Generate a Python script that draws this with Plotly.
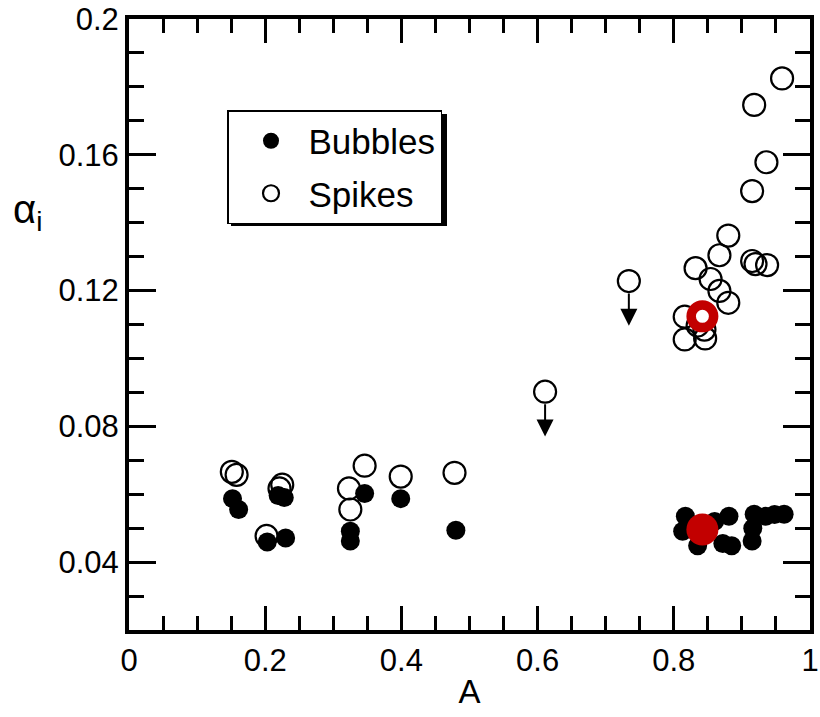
import plotly.graph_objects as go

# Spikes (open circles)
spikes_x = [0.151, 0.158, 0.225, 0.221, 0.202, 0.346, 0.323, 0.325, 0.399, 0.478,
            0.959, 0.918, 0.936, 0.915, 0.880, 0.867, 0.915, 0.920, 0.937, 0.832,
            0.854, 0.867, 0.880, 0.816, 0.835, 0.816, 0.846, 0.845]
spikes_y = [0.0666, 0.0657, 0.0628, 0.0617, 0.0477, 0.0684, 0.0617, 0.0555, 0.0652, 0.0663,
            0.1825, 0.1747, 0.1578, 0.1493, 0.1362, 0.1304, 0.1287, 0.1278, 0.1275, 0.1266,
            0.1234, 0.1199, 0.1164, 0.1123, 0.1097, 0.1056, 0.1059, 0.1085]

# Spikes given as upper limits (drawn with a downward arrow)
limit_x = [0.734, 0.611]
limit_y = [0.1228, 0.0902]

# Bubbles (filled circles)
bubbles_x = [0.152, 0.161, 0.219, 0.228, 0.203, 0.230, 0.346, 0.325, 0.325, 0.399, 0.480,
             0.817, 0.881, 0.813, 0.835, 0.872, 0.885, 0.918, 0.935, 0.948, 0.962, 0.915,
             0.916, 0.860]
bubbles_y = [0.0587, 0.0555, 0.0596, 0.0590, 0.0459, 0.0471, 0.0602, 0.0491, 0.0462, 0.0587, 0.0494,
             0.0535, 0.0535, 0.0491, 0.0448, 0.0455, 0.0448, 0.0541, 0.0535, 0.0540, 0.0541, 0.0462,
             0.0500, 0.0520]

# Mean values of the high-A groups
mean_bubbles = (0.842, 0.0496)
mean_spikes = (0.842, 0.1124)

x_range = [0, 1]
y_range = [0.02, 0.2]
y_tickvals = [0.04, 0.08, 0.12, 0.16, 0.2]
y_ticktext = ["0.04", "0.08", "0.12", "0.16", "0.2"]

FONT = "Liberation Sans, Arial, Helvetica, sans-serif"
RED = "#c20000"
ARROW_LEN = 0.0132  # length of the upper-limit arrows in data units

# plot-area geometry in pixels, used to place paper-referenced items
W, H = 820, 717
M_L, M_R, M_T, M_B = 129, 10, 19, 87
PX0, PX1 = M_L, W - M_R
PY0, PY1 = M_T, H - M_B


def px(x):
    return (x - PX0) / (PX1 - PX0)


def py(y):
    return (PY1 - y) / (PY1 - PY0)


fig = go.Figure()

fig.add_trace(go.Scatter(
    x=spikes_x + limit_x, y=spikes_y + limit_y, mode="markers", name="Spikes",
    legendrank=2, legendgroup="s",
    marker=dict(symbol="circle-open", size=22, color="black", line=dict(width=2.2, color="black")),
))
fig.add_trace(go.Scatter(
    x=bubbles_x, y=bubbles_y, mode="markers", name="Bubbles",
    legendrank=1, legendgroup="b",
    marker=dict(symbol="circle", size=19, color="black"),
))
fig.add_trace(go.Scatter(
    x=[mean_bubbles[0]], y=[mean_bubbles[1]], mode="markers", showlegend=False,
    marker=dict(symbol="circle", size=32, color=RED),
))
fig.add_trace(go.Scatter(
    x=[mean_spikes[0]], y=[mean_spikes[1]], mode="markers", showlegend=False,
    marker=dict(symbol="circle", size=22.5, color="white", line=dict(width=9.5, color=RED)),
))

for lx, ly in zip(limit_x, limit_y):
    fig.add_annotation(
        x=lx, y=ly - ARROW_LEN, ax=lx, ay=ly, xref="x", yref="y", axref="x", ayref="y",
        text="", showarrow=True, arrowhead=2, arrowsize=1.7, arrowwidth=2,
        arrowcolor="black", startstandoff=11,
    )

axis_common = dict(
    showline=True, linewidth=4, linecolor="black", mirror="allticks",
    ticks="inside", tickcolor="black", tickwidth=3,
    showgrid=False, zeroline=False, ticklabeloverflow="allow", automargin=False,
    tickfont=dict(family=FONT, size=31, color="black"),
)

fig.update_xaxes(
    range=x_range, tick0=0, dtick=0.2, ticklen=24,
    minor=dict(tickmode="linear", tick0=0, dtick=0.05, ticks="inside", ticklen=14,
               tickwidth=3, tickcolor="black", showgrid=False),
    title=dict(text="A", font=dict(family=FONT, size=33, color="black"), standoff=4),
    **axis_common,
)
fig.update_yaxes(
    range=y_range, tickmode="array", tickvals=y_tickvals, ticktext=y_ticktext, ticklen=27,
    minor=dict(tickmode="linear", tick0=0, dtick=0.01, ticks="inside", ticklen=15,
               tickwidth=3, tickcolor="black", showgrid=False),
    **axis_common,
)

fig.add_annotation(
    text="α<sub>i</sub>", xref="paper", yref="paper", x=px(27), y=py(212),
    xanchor="center", yanchor="middle",
    showarrow=False, font=dict(family=FONT, size=40, color="black"),
)

# drop shadow behind the legend box
fig.add_shape(type="rect", xref="paper", yref="paper",
              x0=px(231), x1=px(447), y0=py(226), y1=py(114),
              fillcolor="black", line=dict(width=0), layer="above")

fig.update_layout(
    width=W, height=H,
    margin=dict(l=M_L, r=M_R, t=M_T, b=M_B, autoexpand=False),
    plot_bgcolor="white", paper_bgcolor="white",
    showlegend=True,
    legend=dict(
        x=px(227), y=py(110), xanchor="left", yanchor="top",
        bgcolor="white", bordercolor="black", borderwidth=1.5,
        traceorder="grouped", tracegroupgap=4, indentation=5, itemwidth=65,
        font=dict(family=FONT, size=35, color="black"),
    ),
)

fig.write_html("out.html")
